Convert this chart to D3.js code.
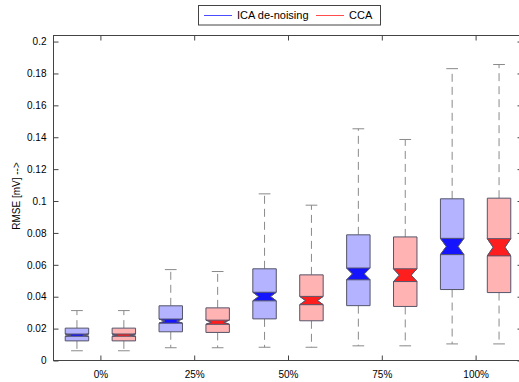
<!DOCTYPE html>
<html lang="en">
<head>
  <meta charset="utf-8">
  <title>RMSE boxplot</title>
  <script src="https://cdn.jsdelivr.net/npm/d3@7"></script>
  <style>
    body { margin: 0; background: #fff; }
    text { font-family: "Liberation Sans", Arial, sans-serif; font-size: 10px; fill: #000; }
  </style>
</head>
<body>
<script>
  // group labels (noise level)
  var groups = ["0%", "25%", "50%", "75%", "100%"];
  var methods = ["ICA de-noising", "CCA"];

  // box stats, one value per group
  var icaLow   = [0.0061, 0.0080, 0.0083, 0.0092, 0.0104];
  var icaQ1    = [0.0123, 0.0180, 0.0261, 0.0344, 0.0445];
  var icaMed   = [0.0159, 0.0247, 0.0401, 0.0543, 0.0715];
  var icaQ3    = [0.0203, 0.0343, 0.0575, 0.0788, 0.1014];
  var icaHigh  = [0.0313, 0.0570, 0.1045, 0.1453, 0.1830];
  var icaNotch = [0.0007, 0.0013, 0.0027, 0.0037, 0.0051];

  var ccaLow   = [0.0061, 0.0080, 0.0083, 0.0092, 0.0104];
  var ccaQ1    = [0.0123, 0.0176, 0.0249, 0.0339, 0.0426];
  var ccaMed   = [0.0159, 0.0240, 0.0376, 0.0535, 0.0710];
  var ccaQ3    = [0.0203, 0.0330, 0.0537, 0.0775, 0.1018];
  var ccaHigh  = [0.0313, 0.0558, 0.0974, 0.1386, 0.1856];
  var ccaNotch = [0.0007, 0.0013, 0.0026, 0.0040, 0.0054];

  var yTicks = [0, 0.02, 0.04, 0.06, 0.08, 0.1, 0.12, 0.14, 0.16, 0.18, 0.2];

  (function () {
    var W = 519, H = 382;
    var pl = 53.5, pr = 522.5, pt = 35.5, pb = 360.5;

    var svg = d3.select("body").append("svg")
      .attr("width", W).attr("height", H);

    var x = d3.scaleLinear().domain([0.5, 10.5]).range([pl, pr]);
    var y = d3.scaleLinear().domain([0, 0.2038]).range([pb, pt]);

    var light = ["#b3b3ff", "#ffb3b3"];
    var dark = ["#1414ff", "#ff1e1e"];
    var edge = "#55556a";
    var whisk = "#8a8a8a";

    // build box records
    var boxes = [];
    groups.forEach(function (g, i) {
      boxes.push({ pos: 2 * i + 1, m: 0, lo: icaLow[i], q1: icaQ1[i], med: icaMed[i], q3: icaQ3[i], hi: icaHigh[i], n: icaNotch[i] });
      boxes.push({ pos: 2 * i + 2, m: 1, lo: ccaLow[i], q1: ccaQ1[i], med: ccaMed[i], q3: ccaQ3[i], hi: ccaHigh[i], n: ccaNotch[i] });
    });

    var hw = (x(0.25) - x(0)); // half box width

    var b = svg.append("g").selectAll("g").data(boxes).enter().append("g");

    // whiskers
    b.append("line")
      .attr("x1", function (d) { return x(d.pos); }).attr("x2", function (d) { return x(d.pos); })
      .attr("y1", function (d) { return y(d.q3); }).attr("y2", function (d) { return y(d.hi); })
      .attr("stroke", whisk).attr("stroke-dasharray", "8,5");
    b.append("line")
      .attr("x1", function (d) { return x(d.pos); }).attr("x2", function (d) { return x(d.pos); })
      .attr("y1", function (d) { return y(d.q1); }).attr("y2", function (d) { return y(d.lo); })
      .attr("stroke", whisk).attr("stroke-dasharray", "8,5");
    // caps
    ["hi", "lo"].forEach(function (k) {
      b.append("line")
        .attr("x1", function (d) { return x(d.pos) - hw / 2; })
        .attr("x2", function (d) { return x(d.pos) + hw / 2; })
        .attr("y1", function (d) { return y(d[k]); }).attr("y2", function (d) { return y(d[k]); })
        .attr("stroke", whisk);
    });

    // box with notch
    b.append("path")
      .attr("d", function (d) {
        var c = x(d.pos);
        return "M" + (c - hw) + "," + y(d.q1) +
          "L" + (c - hw) + "," + y(d.med - d.n) +
          "L" + (c - hw / 2) + "," + y(d.med) +
          "L" + (c - hw) + "," + y(d.med + d.n) +
          "L" + (c - hw) + "," + y(d.q3) +
          "L" + (c + hw) + "," + y(d.q3) +
          "L" + (c + hw) + "," + y(d.med + d.n) +
          "L" + (c + hw / 2) + "," + y(d.med) +
          "L" + (c + hw) + "," + y(d.med - d.n) +
          "L" + (c + hw) + "," + y(d.q1) + "Z";
      })
      .attr("fill", function (d) { return light[d.m]; })
      .attr("stroke", edge);

    // notch region
    b.append("path")
      .attr("d", function (d) {
        var c = x(d.pos);
        return "M" + (c - hw) + "," + y(d.med - d.n) +
          "L" + (c - hw / 2) + "," + y(d.med) +
          "L" + (c - hw) + "," + y(d.med + d.n) +
          "L" + (c + hw) + "," + y(d.med + d.n) +
          "L" + (c + hw / 2) + "," + y(d.med) +
          "L" + (c + hw) + "," + y(d.med - d.n) + "Z";
      })
      .attr("fill", function (d) { return dark[d.m]; })
      .attr("stroke", edge);

    // frame
    svg.append("rect")
      .attr("x", pl).attr("y", pt)
      .attr("width", pr - pl).attr("height", pb - pt)
      .attr("fill", "none").attr("stroke", "#444");

    // y axis ticks (left and right, inward)
    var yAxis = d3.axisLeft(y).tickValues(yTicks).tickSize(-5).tickPadding(7)
      .tickFormat(function (d) { return String(+d.toFixed(2)); });
    var ya = svg.append("g").attr("transform", "translate(" + pl + ",0)").call(yAxis);
    ya.select(".domain").remove();
    ya.selectAll("line").attr("stroke", "#444");

    var yr = svg.append("g").attr("transform", "translate(" + pr + ",0)")
      .call(d3.axisRight(y).tickValues(yTicks).tickSize(-5).tickFormat(""));
    yr.select(".domain").remove();
    yr.selectAll("line").attr("stroke", "#444");

    // x axis ticks between pairs
    var xTicks = groups.map(function (g, i) { return 2 * i + 1.5; });
    var xa = svg.append("g").attr("transform", "translate(0," + pb + ")")
      .call(d3.axisBottom(x).tickValues(xTicks).tickSize(-5).tickPadding(10)
        .tickFormat(function (d, i) { return groups[i]; }));
    xa.select(".domain").remove();
    xa.selectAll("line").attr("stroke", "#444");

    var xt = svg.append("g").attr("transform", "translate(0," + pt + ")")
      .call(d3.axisTop(x).tickValues(xTicks).tickSize(-5).tickFormat(""));
    xt.select(".domain").remove();
    xt.selectAll("line").attr("stroke", "#444");

    svg.selectAll(".tick text")
      .style("font-family", "'Liberation Sans', Arial, sans-serif")
      .style("font-size", "10px").attr("fill", "#000");

    // y label
    svg.append("text")
      .attr("transform", "translate(20,196) rotate(-90)")
      .attr("text-anchor", "middle")
      .text("RMSE [mV] -->");

    // legend
    var lg = svg.append("g");
    lg.append("rect").attr("x", 198.5).attr("y", 5.5).attr("width", 182).attr("height", 19.5)
      .attr("fill", "#fff").attr("stroke", "#444");
    var lx = [204, 316];
    var lc = ["blue", "red"];
    methods.forEach(function (m, i) {
      lg.append("line").attr("x1", lx[i]).attr("x2", lx[i] + 28).attr("y1", 15.5).attr("y2", 15.5)
        .style("stroke", lc[i]).style("stroke-opacity", 0.7);
      lg.append("text").attr("x", lx[i] + 33).attr("y", 19).style("font-size", "11px").text(m);
    });
  })();
</script>
</body>
</html>
